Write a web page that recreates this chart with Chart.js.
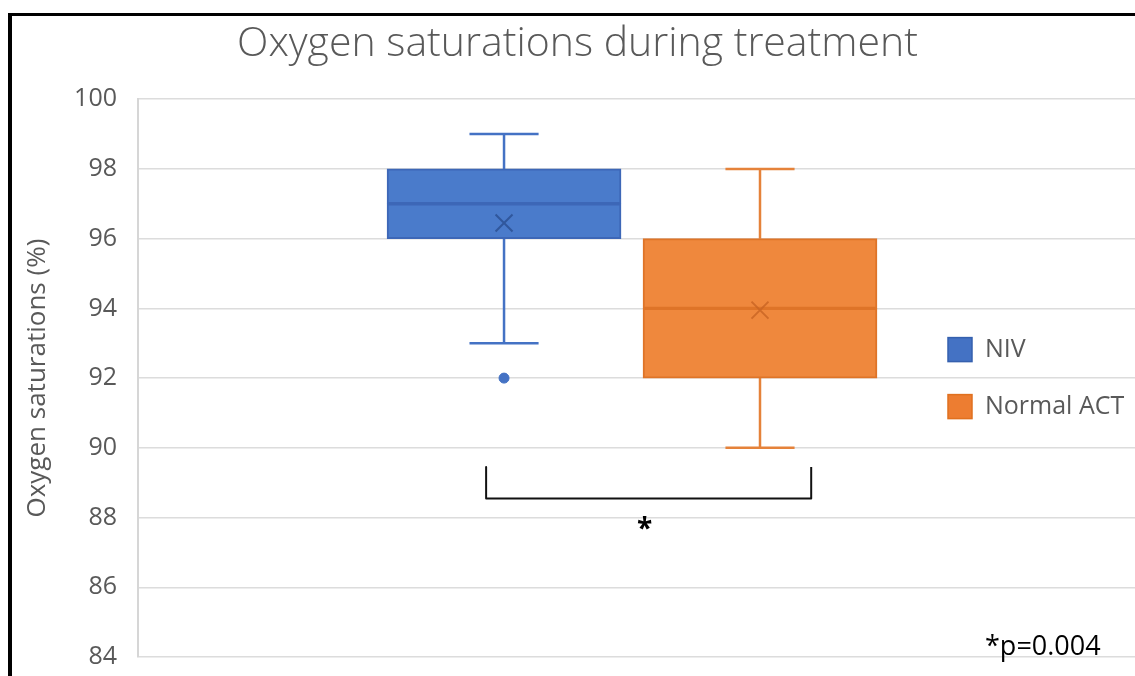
<!DOCTYPE html>
<html>
<head>
<meta charset="utf-8">
<title>Oxygen saturations during treatment</title>
<script src="https://cdn.jsdelivr.net/npm/chart.js@4.4.1/dist/chart.umd.min.js"></script>
<style>
  html, body { margin: 0; padding: 0; background: #fff; overflow: hidden; }
  #wrap { position: relative; width: 1135px; height: 676px; overflow: hidden; }
  #chart { display: block; }
  #frame { position: absolute; left: 8px; top: 13px; right: 0; bottom: 0;
           border-left: 4px solid #000; border-top: 3px solid #000; pointer-events: none; }
</style>
</head>
<body>
<div id="wrap">
  <canvas id="chart" width="1135" height="676"></canvas>
  <div id="frame"></div>
</div>
<script>
// box plot values
const groups = ['NIV', 'Normal ACT'];
const groupPos = [1, 2];
const q1 = [96, 92];
const median = [97, 94];
const q3 = [98, 96];
const whiskerLow = [93, 90];
const whiskerHigh = [99, 98];
const means = [96.45, 93.95];
const outliers = [[92], []];

const yMin = 84, yMax = 100, yStep = 2;

// significance bracket (x in group units, y in %)
const bracketX = [0.93, 2.2];
const bracketY = [89.45, 88.55];
const pValueText = '*p=0.004';

const fills = ['#4A7BCB', '#EF883D'];
const borders = ['#3D67B7', '#DE7428'];
const whiskerColors = ['#4472C4', '#E5823A'];
const meanColors = ['rgba(40,75,140,0.75)', 'rgba(200,100,35,0.8)'];
const capHalf = 0.135;

const FONT = "'Open Sans', 'DejaVu Sans', sans-serif";

const datasets = [];
groups.forEach((g, i) => {
  const c = groupPos[i];
  // box drawn as two floating bars so the median shows as their shared edge
  [[q1[i], median[i]], [median[i], q3[i]]].forEach(range => {
    datasets.push({
      type: 'bar',
      label: g,
      data: [{ x: c, y: range }],
      backgroundColor: fills[i],
      borderColor: borders[i],
      borderWidth: 2,
      borderSkipped: false,
      barThickness: 234,
      stack: 'box',
      order: 2
    });
  });
  datasets.push({
    type: 'line',
    label: g + ' whiskers',
    data: [
      { x: c, y: q3[i] }, { x: c, y: whiskerHigh[i] }, { x: c, y: null },
      { x: c - capHalf, y: whiskerHigh[i] }, { x: c + capHalf, y: whiskerHigh[i] }, { x: c, y: null },
      { x: c, y: q1[i] }, { x: c, y: whiskerLow[i] }, { x: c, y: null },
      { x: c - capHalf, y: whiskerLow[i] }, { x: c + capHalf, y: whiskerLow[i] }
    ],
    borderColor: whiskerColors[i],
    borderWidth: 2.5,
    pointRadius: 0,
    spanGaps: false,
    order: 3
  });
  datasets.push({
    type: 'line',
    label: g + ' mean',
    data: [{ x: c, y: means[i] }],
    showLine: false,
    pointStyle: 'crossRot',
    pointRadius: 12,
    borderColor: meanColors[i],
    borderWidth: 2,
    order: 1
  });
  datasets.push({
    type: 'line',
    label: g + ' outliers',
    data: outliers[i].map(v => ({ x: c, y: v })),
    showLine: false,
    pointStyle: 'circle',
    pointRadius: 5,
    backgroundColor: whiskerColors[i],
    borderColor: whiskerColors[i],
    order: 1
  });
});

datasets.push({
  type: 'line',
  label: 'bracket',
  data: [
    { x: bracketX[0], y: bracketY[0] }, { x: bracketX[0], y: bracketY[1] },
    { x: bracketX[1], y: bracketY[1] }, { x: bracketX[1], y: bracketY[0] }
  ],
  borderColor: '#111',
  borderWidth: 2,
  borderJoinStyle: 'round',
  pointRadius: 0,
  order: 1
});

// legend sits inside the plot area, over the gridlines, like the original
const boxLegend = {
  id: 'boxLegend',
  afterDraw(chart, args, opts) {
    const ctx = chart.ctx;
    const area = chart.chartArea;
    const midY = (area.top + area.bottom) / 2;
    const n = opts.labels.length;
    ctx.save();
    ctx.font = opts.font;
    ctx.textBaseline = 'middle';
    ctx.textAlign = 'left';
    opts.labels.forEach((label, i) => {
      const y = midY + (i - (n - 1) / 2) * opts.spacing;
      ctx.fillStyle = opts.fills[i];
      ctx.strokeStyle = opts.strokes[i];
      ctx.lineWidth = 1.5;
      ctx.fillRect(opts.x, y - opts.box / 2, opts.box, opts.box);
      ctx.strokeRect(opts.x, y - opts.box / 2, opts.box, opts.box);
      ctx.fillStyle = opts.color;
      ctx.fillText(label, opts.x + opts.box + opts.gap, y);
    });
    ctx.restore();
  }
};

const notes = {
  id: 'notes',
  afterDraw(chart) {
    const ctx = chart.ctx;
    const xs = chart.scales.x, ys = chart.scales.y;
    ctx.save();
    ctx.fillStyle = '#000';
    ctx.textAlign = 'center';
    ctx.textBaseline = 'middle';
    ctx.font = "bold 28px " + FONT;
    const midX = xs.getPixelForValue((bracketX[0] + bracketX[1]) / 2);
    ctx.fillText('*', midX - 4, ys.getPixelForValue(bracketY[1]) + 32);
    ctx.textAlign = 'left';
    ctx.textBaseline = 'alphabetic';
    ctx.font = "27px " + FONT;
    ctx.fillText(pValueText, chart.chartArea.right - 150, chart.chartArea.bottom - 2);
    ctx.restore();
  }
};

new Chart(document.getElementById('chart'), {
  type: 'bar',
  data: { datasets },
  options: {
    responsive: false,
    animation: false,
    events: [],
    layout: { autoPadding: false, padding: { left: 20, right: 0, top: 0, bottom: 19 } },
    scales: {
      x: {
        type: 'linear',
        min: -0.43,
        max: 3.465,
        offset: false,
        display: false
      },
      y: {
        min: yMin,
        max: yMax,
        stacked: false,
        ticks: {
          stepSize: yStep,
          padding: 21,
          color: '#595959',
          font: { family: FONT, size: 25 }
        },
        grid: { color: '#dcdcdc', lineWidth: 1.5, drawTicks: false },
        border: { display: true, color: '#d6d6d6', width: 2 },
        title: {
          display: true,
          text: 'Oxygen saturations (%)',
          color: '#595959',
          font: { family: FONT, size: 26 },
          padding: { top: 2, bottom: 0 }
        },
        afterFit(scale) {
          scale.width = 118;
          // tick padding would otherwise push the plot bottom up
          scale.paddingTop = 0;
          scale.paddingBottom = 0;
        }
      }
    },
    plugins: {
      legend: { display: false },
      tooltip: { enabled: false },
      title: {
        display: true,
        text: 'Oxygen saturations during treatment',
        color: '#595959',
        font: { family: FONT, size: 41, weight: 300 },
        padding: { top: 20, bottom: 30 }
      },
      boxLegend: {
        labels: groups,
        fills: ['#4472C4', '#ED7D31'],
        strokes: ['#3560AE', '#E0701F'],
        x: 948,
        box: 24,
        gap: 13,
        spacing: 57,
        font: "25px " + FONT,
        color: '#595959'
      }
    }
  },
  plugins: [boxLegend, notes]
});
</script>
</body>
</html>
